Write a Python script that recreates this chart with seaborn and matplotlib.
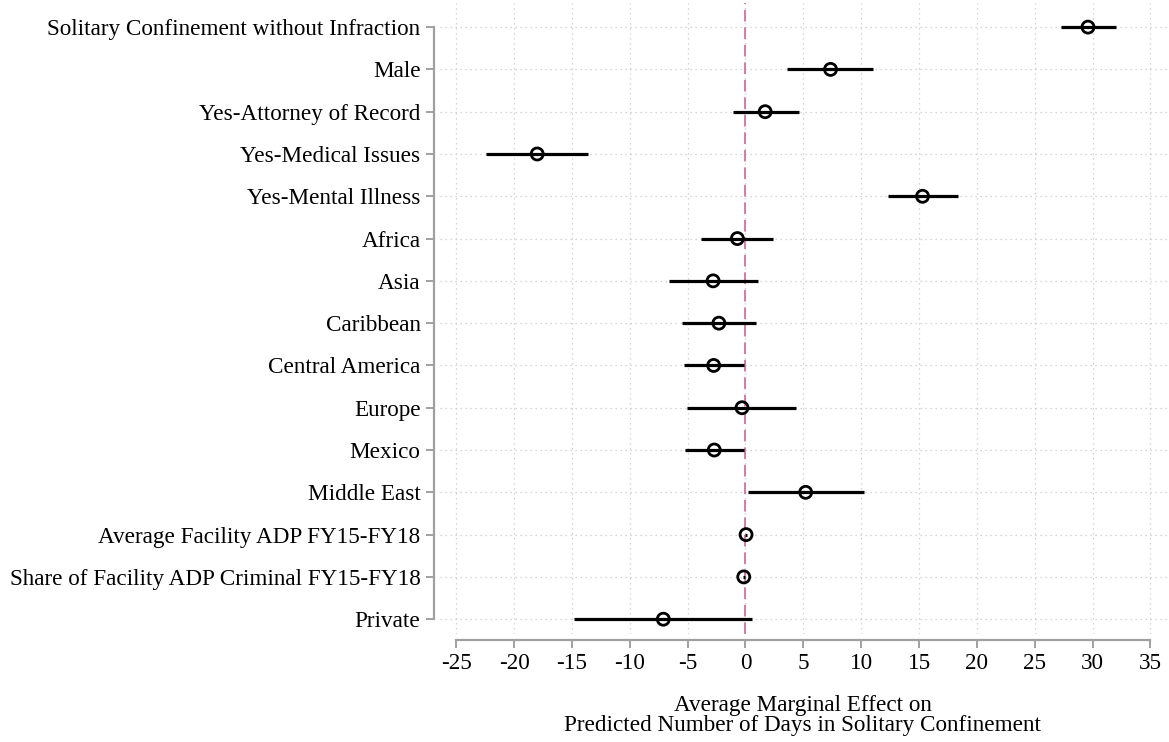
import matplotlib
matplotlib.use("Agg")
import matplotlib.pyplot as plt
import seaborn as sns
import numpy as np
import pandas as pd

categories = [
    "Solitary Confinement without Infraction",
    "Male",
    "Yes-Attorney of Record",
    "Yes-Medical Issues",
    "Yes-Mental Illness",
    "Africa",
    "Asia",
    "Caribbean",
    "Central America",
    "Europe",
    "Mexico",
    "Middle East",
    "Average Facility ADP FY15-FY18",
    "Share of Facility ADP Criminal FY15-FY18",
    "Private",
]
estimates = [29.6, 7.35, 1.7, -18.0, 15.3, -0.7, -2.8, -2.3, -2.75, -0.3, -2.7, 5.2, 0.05, -0.15, -7.1]
ci_low = [27.3, 3.6, -1.1, -22.4, 12.3, -3.85, -6.65, -5.5, -5.35, -5.05, -5.2, 0.25, 0.0, -0.25, -14.8]
ci_high = [32.0, 11.0, 4.6, -13.6, 18.4, 2.4, 1.05, 0.95, -0.15, 4.4, -0.15, 10.25, 0.1, -0.05, 0.6]
xticks = [-25, -20, -15, -10, -5, 0, 5, 10, 15, 20, 25, 30, 35]
xlabel = "Average Marginal Effect on\nPredicted Number of Days in Solitary Confinement"

df = pd.DataFrame({"cat": categories, "est": estimates, "lo": ci_low, "hi": ci_high})
df["pos"] = np.arange(len(df))

sns.set_theme(style="white")
plt.rcParams["font.family"] = ["Liberation Serif", "DejaVu Serif"]
plt.rcParams["text.color"] = "black"
plt.rcParams["axes.labelcolor"] = "black"

FS = 16.7
W, H = 1169, 742
fig = plt.figure(figsize=(W / 100, H / 100), dpi=100)
ax_left, ax_right, ax_top, ax_bot = 440, 1169, 3, 634
ax = fig.add_axes([ax_left / W, 1 - ax_bot / H, (ax_right - ax_left) / W, (ax_bot - ax_top) / H])

grid_kw = dict(color="#c8c8c8", lw=0.9, ls=(0, (1, 3)), zorder=0)
for p in df["pos"]:
    ax.axhline(p, **grid_kw)
for t in xticks:
    ax.axvline(t, **grid_kw)

ax.axvline(0, color="#d57aa8", lw=1.4, ls=(0, (6, 3)), zorder=1)

ax.hlines(df["pos"], df["lo"], df["hi"], color="black", lw=2.3, zorder=2)
sns.scatterplot(data=df, x="est", y="pos", ax=ax, marker="o", s=75,
                facecolor="none", edgecolor="black", linewidth=2.0, zorder=3, legend=False)

ax.set_ylim(14.35, -0.57)
ax.set_xlim(-26.4, 36.6)
ax.set_yticks(df["pos"])
ax.set_yticklabels(categories)
ax.set_xticks(xticks)
ax.set_xticklabels([str(t) for t in xticks])
ax.set_ylabel("")
ax.set_xlabel(xlabel, fontsize=FS, linespacing=0.98, color="black")
ax.xaxis.set_label_coords((803 - ax_left) / (ax_right - ax_left), -0.096)

for s in ["top", "right"]:
    ax.spines[s].set_visible(False)
for s in ["left", "bottom"]:
    ax.spines[s].set_color("#a0a0a0")
    ax.spines[s].set_linewidth(1.6)
    ax.spines[s].set_position(("outward", 4))
ax.spines["left"].set_bounds(0, 14)
ax.spines["bottom"].set_bounds(-25, 35)

ax.tick_params(axis="both", which="major", length=6, width=1.4, color="#a0a0a0",
               labelsize=FS, labelcolor="black", pad=4, left=True, bottom=True)

fig.savefig("out.png", dpi=100)
